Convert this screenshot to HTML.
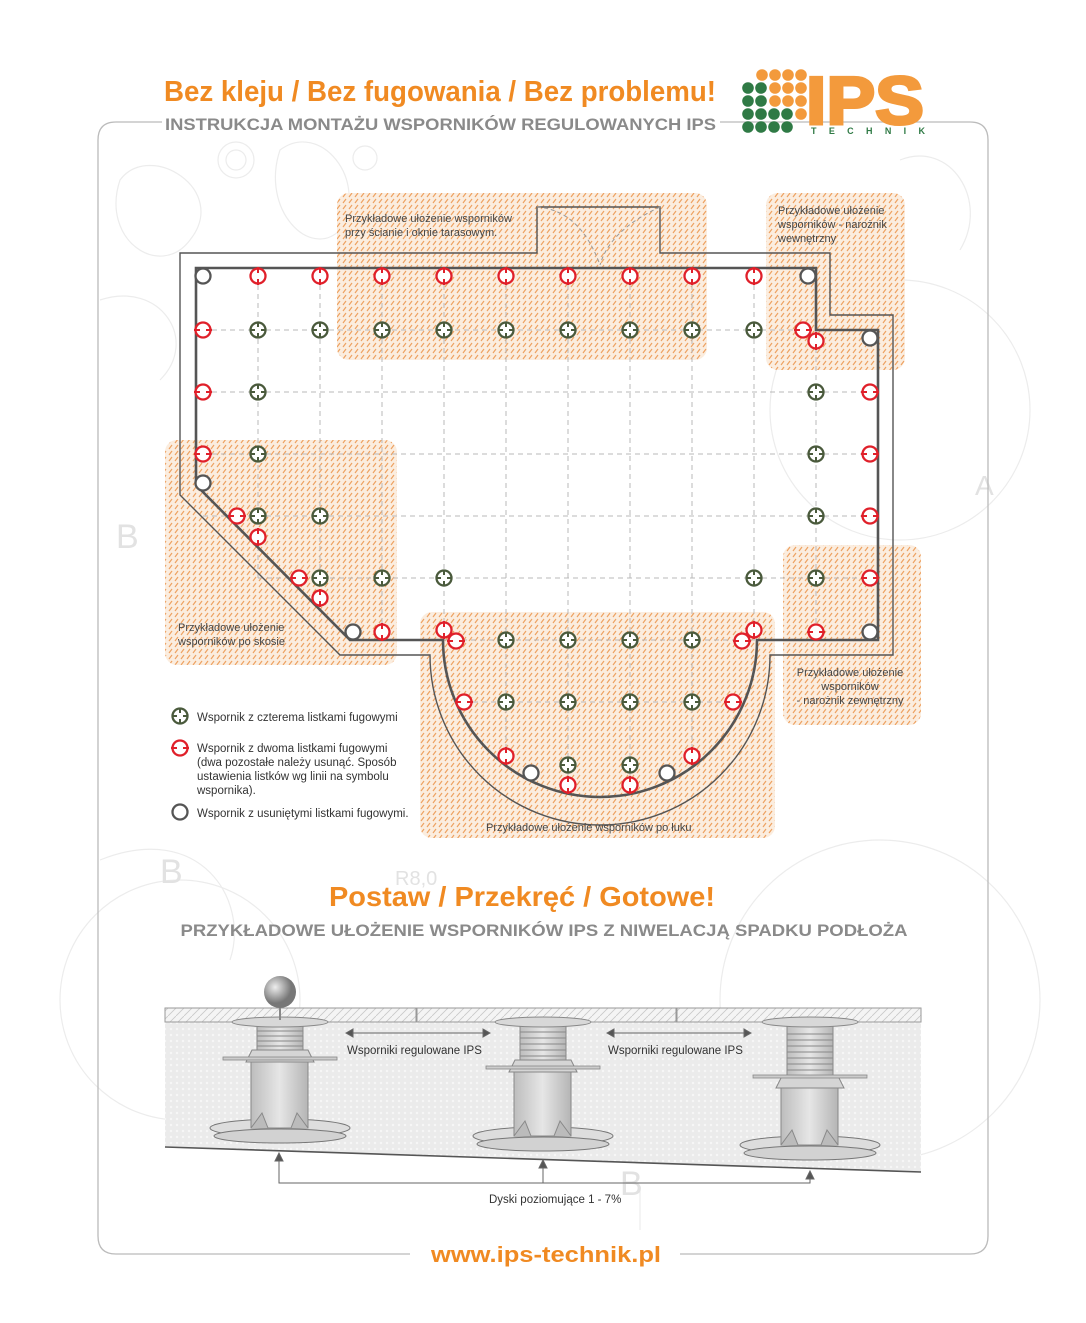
<!DOCTYPE html>
<html><head><meta charset="utf-8"><style>
body{margin:0;background:#fff;}
svg{display:block;font-family:"Liberation Sans",sans-serif;}
</style></head><body>
<svg width="1086" height="1323" viewBox="0 0 1086 1323" xmlns="http://www.w3.org/2000/svg">
<defs>
<pattern id="h" width="6" height="6" patternUnits="userSpaceOnUse">
<rect width="6" height="6" fill="#fbeddf"/>
<path d="M1,5 L4,1" stroke="#eea160" stroke-width="1.2"/>
</pattern>
<pattern id="sl" width="8" height="8" patternUnits="userSpaceOnUse">
<rect width="8" height="8" fill="#f4f4f4"/>
<path d="M0,8 L8,0" stroke="#c8c8c8" stroke-width="0.8"/>
</pattern>
<pattern id="dt" width="6" height="6" patternUnits="userSpaceOnUse">
<rect width="6" height="6" fill="#ebebeb"/>
<circle cx="3" cy="3" r="1.2" fill="#f6f6f6"/>
</pattern>
<linearGradient id="tb" x1="0" x2="1"><stop offset="0" stop-color="#bdbdbd"/><stop offset=".5" stop-color="#e6e6e6"/><stop offset="1" stop-color="#b5b5b5"/></linearGradient>
<radialGradient id="ball" cx=".35" cy=".35"><stop offset="0" stop-color="#eee"/><stop offset="1" stop-color="#777"/></radialGradient>
<g id="G"><circle r="7.5" fill="#fff" stroke="#4a5a3c" stroke-width="2.3"/><path d="M0,-7 V-3 M0,7 V3 M-7,0 H-3 M7,0 H3" stroke="#4a5a3c" stroke-width="2"/></g>
<g id="R"><circle r="7.5" fill="#fff" stroke="#e0202a" stroke-width="2.3"/><path d="M0,-9 V-3 M0,9 V3" stroke="#e0202a" stroke-width="2"/></g>
<g id="RH"><circle r="7.5" fill="#fff" stroke="#e0202a" stroke-width="2.3"/><path d="M-9,0 H-3 M9,0 H3" stroke="#e0202a" stroke-width="2"/></g>
<g id="K"><circle r="7.5" fill="#fff" stroke="#555" stroke-width="2.3"/></g>
</defs>

<!-- faint background drawing -->
<g fill="none" stroke="#ececec" stroke-width="1.2">
<circle cx="236" cy="160" r="18"/><circle cx="236" cy="160" r="10"/>
<path d="M120,180 C150,140 230,190 190,240 C160,280 100,240 120,180Z"/>
<path d="M280,150 C320,120 370,180 340,230 C310,260 260,210 280,150Z"/>
<circle cx="365" cy="158" r="12"/>
<path d="M900,160 C950,140 990,200 960,250"/>
<circle cx="900" cy="410" r="130"/>
<circle cx="880" cy="1000" r="160"/>
<circle cx="180" cy="1000" r="120"/>
<path d="M100,300 C160,280 200,340 160,380"/>
<path d="M100,860 C200,820 250,900 230,960"/>
<path d="M640,1190 L640,1230"/>
</g>
<g fill="#e2e2e2" font-size="34">
<text x="116" y="548">B</text><text x="160" y="883">B</text><text x="620" y="1195">B</text><text x="975" y="495" font-size="28">A</text>
<text x="395" y="885" font-size="20">R8,0</text>
</g>

<!-- frame -->
<path d="M410,1254 H116 Q98,1254 98,1236 V140 Q98,122 116,122 H162 M720,122 H970 Q988,122 988,140 V1236 Q988,1254 970,1254 H680" fill="none" stroke="#bbb" stroke-width="1.3"/>

<!-- header -->
<text x="164" y="101" font-size="29" font-weight="bold" fill="#f08a22" textLength="552" lengthAdjust="spacingAndGlyphs">Bez kleju / Bez fugowania / Bez problemu!</text>
<text x="165" y="130" font-size="17" font-weight="bold" fill="#8a8a8a" textLength="551" lengthAdjust="spacingAndGlyphs">INSTRUKCJA MONTAŻU WSPORNIKÓW REGULOWANYCH IPS</text>
<g>
<g fill="#f39a3c"><circle cx="762" cy="75" r="5.8"/><circle cx="775" cy="75" r="5.8"/><circle cx="788" cy="75" r="5.8"/><circle cx="801" cy="75" r="5.8"/>
<circle cx="775" cy="88" r="5.8"/><circle cx="788" cy="88" r="5.8"/><circle cx="801" cy="88" r="5.8"/>
<circle cx="775" cy="101" r="5.8"/><circle cx="788" cy="101" r="5.8"/><circle cx="801" cy="101" r="5.8"/>
<circle cx="801" cy="114" r="5.8"/></g>
<g fill="#2f7a45"><circle cx="748" cy="88" r="5.8"/><circle cx="761" cy="88" r="5.8"/>
<circle cx="748" cy="101" r="5.8"/><circle cx="761" cy="101" r="5.8"/>
<circle cx="748" cy="114" r="5.8"/><circle cx="761" cy="114" r="5.8"/><circle cx="774" cy="114" r="5.8"/><circle cx="787" cy="114" r="5.8"/>
<circle cx="748" cy="127" r="5.8"/><circle cx="761" cy="127" r="5.8"/><circle cx="774" cy="127" r="5.8"/><circle cx="787" cy="127" r="5.8"/></g>
<text x="806" y="124" font-size="68" font-weight="bold" fill="#f39a3c" stroke="#f39a3c" stroke-width="3" textLength="118" lengthAdjust="spacingAndGlyphs">IPS</text>
<text x="811" y="134" font-size="9" font-weight="bold" fill="#2f7a45" textLength="114" lengthAdjust="spacing">TECHNIK</text>
</g>

<!-- hatched zones -->
<g fill="url(#h)">
<rect x="337" y="193" width="370" height="167" rx="12"/>
<rect x="766" y="193" width="139" height="177" rx="12"/>
<rect x="165" y="440" width="232" height="225" rx="12"/>
<rect x="783" y="545" width="138" height="180" rx="12"/>
<rect x="420" y="612" width="355" height="226" rx="12"/>
</g>

<!-- dashed grid -->
<g stroke="#b8b8b8" stroke-width="1" stroke-dasharray="5,4" fill="none">
<path d="M203,330H870M203,392H870M203,454H870M203,516H870M258,578H870M444,640H816M464,702H733"/>
<path d="M258,276V578M320,276V578M382,276V640M444,276V640M506,276V760M568,276V785M630,276V785M692,276V760M754,276V640M816,330V640"/>
</g>

<!-- outlines -->
<path d="M180,253 H537 V207 H660 V253 H830 V315 H893 V655 H770 A170,170 0 0 1 430,655 H340 L180,495 Z" fill="none" stroke="#555" stroke-width="1.4"/>
<path d="M537,207 Q580,210 600,265 M660,207 Q610,230 600,265" fill="none" stroke="#999" stroke-width="1" stroke-dasharray="4,3"/>
<path d="M196,268 H816 V330 H878 V640 H757 A157,157 0 0 1 443,640 H350 L196,485 Z" fill="none" stroke="#555" stroke-width="2.6"/>

<!-- symbols -->
<use href="#K" x="203" y="276"/>
<use href="#R" x="258" y="276"/><use href="#R" x="320" y="276"/><use href="#R" x="382" y="276"/><use href="#R" x="444" y="276"/><use href="#R" x="506" y="276"/><use href="#R" x="568" y="276"/><use href="#R" x="630" y="276"/><use href="#R" x="692" y="276"/><use href="#R" x="754" y="276"/>
<use href="#K" x="808" y="276"/>
<use href="#RH" x="203" y="330"/>
<use href="#G" x="258" y="330"/><use href="#G" x="320" y="330"/><use href="#G" x="382" y="330"/><use href="#G" x="444" y="330"/><use href="#G" x="506" y="330"/><use href="#G" x="568" y="330"/><use href="#G" x="630" y="330"/><use href="#G" x="692" y="330"/><use href="#G" x="754" y="330"/>
<use href="#RH" x="803" y="330"/><use href="#R" x="816" y="341"/><use href="#K" x="870" y="338"/>
<use href="#RH" x="203" y="392"/><use href="#G" x="258" y="392"/><use href="#G" x="816" y="392"/><use href="#RH" x="870" y="392"/>
<use href="#RH" x="203" y="454"/><use href="#G" x="258" y="454"/><use href="#G" x="816" y="454"/><use href="#RH" x="870" y="454"/>
<use href="#K" x="203" y="483"/>
<use href="#RH" x="237" y="516"/><use href="#G" x="258" y="516"/><use href="#R" x="258" y="537"/><use href="#G" x="320" y="516"/><use href="#G" x="816" y="516"/><use href="#RH" x="870" y="516"/>
<use href="#RH" x="299" y="578"/><use href="#G" x="320" y="578"/><use href="#R" x="320" y="598"/><use href="#G" x="382" y="578"/><use href="#G" x="444" y="578"/><use href="#G" x="754" y="578"/><use href="#G" x="816" y="578"/><use href="#RH" x="870" y="578"/>
<use href="#K" x="353" y="632"/><use href="#R" x="382" y="632"/>
<use href="#R" x="444" y="630"/><use href="#RH" x="456" y="641"/>
<use href="#G" x="506" y="640"/><use href="#G" x="568" y="640"/><use href="#G" x="630" y="640"/><use href="#G" x="692" y="640"/>
<use href="#RH" x="742" y="641"/><use href="#R" x="754" y="630"/>
<use href="#RH" x="816" y="632"/><use href="#K" x="870" y="632"/>
<use href="#RH" x="464" y="702"/><use href="#G" x="506" y="702"/><use href="#G" x="568" y="702"/><use href="#G" x="630" y="702"/><use href="#G" x="692" y="702"/><use href="#RH" x="733" y="702"/>
<use href="#R" x="506" y="756"/><use href="#G" x="568" y="765"/><use href="#G" x="630" y="765"/><use href="#R" x="692" y="756"/>
<use href="#K" x="531" y="773"/><use href="#R" x="568" y="785"/><use href="#R" x="630" y="785"/><use href="#K" x="667" y="773"/>

<!-- zone labels -->
<g font-size="11" fill="#444">
<text x="345" y="222">Przykładowe ułożenie wsporników</text>
<text x="345" y="236">przy ścianie i oknie tarasowym.</text>
<text x="778" y="214">Przykładowe ułożenie</text>
<text x="778" y="228">wsporników - narożnik</text>
<text x="778" y="242">wewnętrzny</text>
<text x="178" y="631">Przykładowe ułożenie</text>
<text x="178" y="645">wsporników po skosie</text>
<text x="850" y="676" text-anchor="middle">Przykładowe ułożenie</text>
<text x="850" y="690" text-anchor="middle">wsporników</text>
<text x="850" y="704" text-anchor="middle">- narożnik zewnętrzny</text>
<text x="486" y="831">Przykładowe ułożenie wsporników po łuku</text>
</g>

<!-- legend -->
<use href="#G" x="180" y="716"/><use href="#RH" x="180" y="748"/><use href="#K" x="180" y="812"/>
<g font-size="11.5" fill="#333">
<text x="197" y="721">Wspornik z czterema listkami fugowymi</text>
<text x="197" y="752">Wspornik z dwoma listkami fugowymi</text>
<text x="197" y="766">(dwa pozostałe należy usunąć. Sposób</text>
<text x="197" y="780">ustawienia listków wg linii na symbolu</text>
<text x="197" y="794">wspornika).</text>
<text x="197" y="817">Wspornik z usuniętymi listkami fugowymi.</text>
</g>

<!-- section 2 -->
<text x="522" y="906" font-size="28" font-weight="bold" fill="#f08a22" text-anchor="middle" textLength="386" lengthAdjust="spacingAndGlyphs">Postaw / Przekręć / Gotowe!</text>
<text x="544" y="936" font-size="17" font-weight="bold" fill="#8a8a8a" text-anchor="middle" textLength="727" lengthAdjust="spacingAndGlyphs">PRZYKŁADOWE UŁOŻENIE WSPORNIKÓW IPS Z NIWELACJĄ SPADKU PODŁOŻA</text>

<path d="M165,1022 H921 V1172 L165,1147 Z" fill="url(#dt)"/>
<rect x="165" y="1008" width="756" height="14" fill="url(#sl)" stroke="#999" stroke-width="1"/>
<path d="M416,1008V1022M417,1008V1022M676,1008V1022M677,1008V1022" stroke="#999"/>
<path d="M165,1147 L921,1172" stroke="#555" stroke-width="1.6"/>

<!-- pedestal 1 -->
<g>
<ellipse cx="280" cy="1128" rx="70" ry="9" fill="#ddd" stroke="#777"/>
<ellipse cx="280" cy="1136" rx="66" ry="7" fill="#d2d2d2" stroke="#777"/>
<rect x="251" y="1062" width="57" height="66" fill="url(#tb)" stroke="#888"/>
<path d="M251,1128 L262,1113 L268,1128 M308,1128 L297,1113 L291,1128" fill="#bbb" stroke="#888"/>
<rect x="257" y="1026" width="46" height="28" fill="url(#tb)" stroke="#888"/>
<path d="M257,1031H303M257,1036H303M257,1041H303M257,1046H303M257,1051H303" stroke="#888"/>
<ellipse cx="280" cy="1022" rx="48" ry="5" fill="#d8d8d8" stroke="#888"/>
<path d="M246,1062 L252,1050 H308 L314,1062 Z" fill="#d5d5d5" stroke="#888"/>
<rect x="223" y="1057" width="114" height="3" fill="#ccc" stroke="#888" stroke-width=".8"/>
<line x1="280" y1="1000" x2="280" y2="1020" stroke="#888" stroke-width="2"/>
<circle cx="280" cy="992" r="16" fill="url(#ball)"/>
</g>
<!-- pedestal 2 -->
<g>
<ellipse cx="543" cy="1136" rx="70" ry="9" fill="#ddd" stroke="#777"/>
<ellipse cx="543" cy="1144" rx="66" ry="7" fill="#d2d2d2" stroke="#777"/>
<rect x="514" y="1072" width="57" height="64" fill="url(#tb)" stroke="#888"/>
<path d="M514,1136 L525,1121 L531,1136 M571,1136 L560,1121 L554,1136" fill="#bbb" stroke="#888"/>
<rect x="520" y="1026" width="46" height="38" fill="url(#tb)" stroke="#888"/>
<path d="M520,1032H566M520,1038H566M520,1044H566M520,1050H566M520,1056H566" stroke="#888"/>
<ellipse cx="543" cy="1022" rx="48" ry="5" fill="#d8d8d8" stroke="#888"/>
<path d="M509,1072 L515,1060 H571 L577,1072 Z" fill="#d5d5d5" stroke="#888"/>
<rect x="486" y="1066" width="114" height="3" fill="#ccc" stroke="#888" stroke-width=".8"/>
</g>
<!-- pedestal 3 -->
<g>
<ellipse cx="810" cy="1145" rx="70" ry="9" fill="#ddd" stroke="#777"/>
<ellipse cx="810" cy="1153" rx="66" ry="7" fill="#d2d2d2" stroke="#777"/>
<rect x="781" y="1088" width="57" height="57" fill="url(#tb)" stroke="#888"/>
<path d="M781,1145 L792,1130 L798,1145 M838,1145 L827,1130 L821,1145" fill="#bbb" stroke="#888"/>
<rect x="787" y="1026" width="46" height="50" fill="url(#tb)" stroke="#888"/>
<path d="M787,1034H833M787,1040H833M787,1046H833M787,1052H833M787,1058H833M787,1064H833M787,1070H833" stroke="#888"/>
<ellipse cx="810" cy="1022" rx="48" ry="5" fill="#d8d8d8" stroke="#888"/>
<path d="M776,1088 L782,1076 H838 L844,1088 Z" fill="#d5d5d5" stroke="#888"/>
<rect x="753" y="1075" width="114" height="3" fill="#ccc" stroke="#888" stroke-width=".8"/>
</g>

<!-- arrows -->
<g stroke="#666" stroke-width="1" fill="#555">
<line x1="352" y1="1033" x2="484" y2="1033"/><path d="M346,1033l7,-4v8z M490,1033l-7,-4v8z"/>
<line x1="613" y1="1033" x2="745" y2="1033"/><path d="M607,1033l7,-4v8z M751,1033l-7,-4v8z"/>
<path d="M279,1160 V1183 H810 V1178 M543,1166 V1183" fill="none"/>
<path d="M279,1153l-4,8h8z M543,1160l-4,8h8z M810,1171l-4,8h8z"/>
</g>
<g font-size="11.5" fill="#333">
<text x="347" y="1054">Wsporniki regulowane IPS</text>
<text x="608" y="1054">Wsporniki regulowane IPS</text>
<text x="489" y="1203">Dyski poziomujące 1 - 7%</text>
</g>

<text x="546" y="1262" font-size="22" font-weight="bold" fill="#f08a22" text-anchor="middle" textLength="230" lengthAdjust="spacingAndGlyphs">www.ips-technik.pl</text>
</svg>
</body></html>
